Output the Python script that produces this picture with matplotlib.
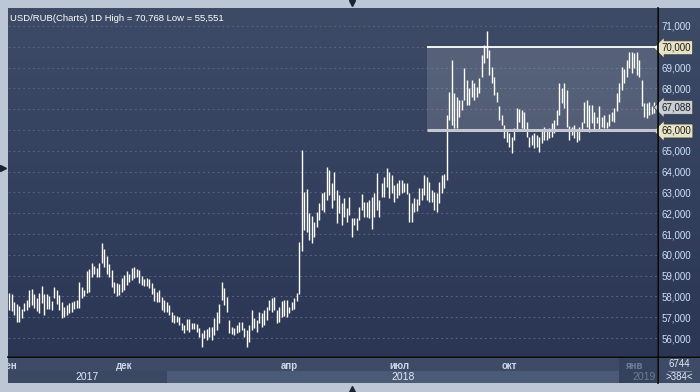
import matplotlib
matplotlib.use("Agg")
import matplotlib.pyplot as plt
import numpy as np
from matplotlib.colors import LinearSegmentedColormap
from matplotlib.patches import Rectangle
from matplotlib.lines import Line2D

plt.rcParams['font.family'] = ['Liberation Sans', 'DejaVu Sans']

# daily bars USD/RUB (high / low)
highs = [58.15, 58.10, 57.75, 57.65, 57.55, 57.40, 57.70, 57.85, 58.30, 58.35,
         58.10, 57.90, 58.15, 58.50, 58.10, 58.10, 58.00, 57.80, 58.43, 58.30,
         58.05, 57.75, 57.50, 57.60, 57.70, 57.75, 57.80, 57.85, 58.71, 58.45,
         58.30, 59.20, 59.30, 59.59, 59.45, 59.35, 59.60, 60.55, 60.30, 59.95,
         59.55, 59.25, 58.70, 58.65, 58.60, 58.90, 59.05, 59.20, 59.10, 59.35,
         59.40, 59.30, 59.25, 59.00, 58.85, 58.90, 58.85, 58.65, 58.40, 58.20,
         58.31, 57.99, 57.83, 57.75, 57.58, 57.26, 57.10, 57.06, 57.00, 56.70,
         56.62, 56.90, 56.90, 56.73, 56.70, 56.67, 56.46, 56.25, 56.38, 56.41,
         56.51, 56.54, 56.94, 57.26, 57.63, 58.71, 58.39, 57.99, 56.86, 56.54,
         56.46, 56.62, 56.78, 56.78, 56.46, 56.38, 56.62, 57.34, 56.94, 56.86,
         57.26, 57.18, 57.34, 57.47, 57.83, 57.91, 57.99, 57.34, 57.47, 57.79,
         57.83, 57.83, 57.50, 57.75, 57.91, 58.15, 60.63, 65.04, 63.04, 63.15,
         62.00, 61.87, 61.60, 62.07, 62.48, 62.96, 63.04, 64.24, 64.08, 63.44,
         64.00, 63.12, 62.88, 62.48, 62.72, 62.24, 62.76, 61.75, 61.75, 61.75,
         62.32, 62.92, 62.56, 62.56, 62.64, 62.80, 62.96, 63.92, 62.64, 63.44,
         63.76, 64.16, 64.00, 63.84, 63.36, 63.44, 63.60, 63.60, 63.44, 63.44,
         62.96, 62.48, 62.72, 62.67, 63.20, 63.20, 63.84, 63.76, 63.52, 63.12,
         63.04, 62.96, 63.52, 63.84, 63.90, 66.72, 67.85, 69.37, 67.77, 67.60,
         67.45, 67.45, 68.97, 68.41, 68.00, 68.41, 68.25, 68.09, 68.49, 69.61,
         70.09, 70.768, 69.85, 69.05, 68.57, 67.85, 67.13, 66.72, 66.24, 66.00,
         65.84, 65.68, 66.08, 67.04, 67.00, 66.96, 66.88, 66.40, 65.68, 65.76,
         65.84, 65.76, 65.68, 66.00, 66.16, 66.00, 66.08, 66.32, 66.48, 66.96,
         68.25, 68.01, 68.25, 67.93, 66.20, 66.16, 66.24, 66.00, 66.16, 66.40,
         67.37, 67.45, 67.20, 67.20, 66.88, 66.64, 67.13, 66.61, 66.72, 66.40,
         66.77, 66.88, 67.04, 67.77, 68.25, 69.05, 68.92, 69.37, 69.77, 69.77,
         69.69, 69.77, 69.37, 68.38, 67.29, 67.32, 67.37, 67.16, 67.37]
lows = [57.35, 57.30, 57.10, 56.75, 56.78, 56.95, 57.30, 57.35, 57.50, 57.60,
        57.45, 57.30, 57.20, 57.70, 57.10, 57.40, 57.40, 57.35, 57.90, 57.65,
        57.35, 56.95, 57.00, 57.10, 57.20, 57.25, 57.40, 57.45, 57.45, 57.90,
        58.00, 58.15, 58.20, 58.95, 59.10, 58.95, 58.95, 59.60, 59.40, 59.10,
        58.95, 58.45, 58.15, 58.00, 58.05, 58.20, 58.30, 58.55, 58.70, 58.80,
        58.90, 58.95, 58.65, 58.55, 58.50, 58.50, 58.40, 58.10, 57.80, 57.75,
        57.75, 57.34, 57.26, 57.26, 57.10, 56.78, 56.70, 56.78, 56.62, 56.38,
        56.22, 56.38, 56.30, 56.41, 56.41, 56.30, 56.03, 55.58, 55.98, 55.90,
        56.06, 55.90, 56.14, 56.38, 56.70, 57.83, 57.58, 57.26, 56.22, 56.19,
        56.14, 56.22, 56.30, 56.38, 56.06, 55.551, 55.82, 56.38, 56.46, 56.30,
        56.70, 56.54, 56.62, 56.86, 57.34, 57.26, 57.34, 56.70, 56.78, 56.99,
        57.06, 57.02, 57.18, 57.34, 57.38, 57.79, 58.10, 60.20, 61.19, 61.11,
        60.71, 60.55, 60.87, 61.35, 61.67, 62.15, 62.07, 62.64, 62.88, 62.24,
        62.64, 61.51, 61.99, 61.43, 61.83, 61.59, 61.91, 60.87, 61.43, 61.19,
        61.67, 62.15, 61.83, 61.80, 61.75, 61.22, 61.83, 62.15, 61.83, 62.80,
        62.80, 63.28, 62.72, 62.96, 62.56, 62.72, 62.88, 62.96, 63.04, 62.92,
        61.59, 61.59, 62.07, 62.12, 62.40, 62.64, 62.88, 62.64, 62.56, 62.56,
        62.15, 62.07, 62.48, 62.96, 63.20, 63.60, 66.48, 66.24, 66.08, 66.08,
        66.64, 66.96, 67.45, 67.20, 67.20, 67.61, 67.45, 67.61, 67.77, 68.57,
        69.21, 69.45, 68.65, 68.25, 67.69, 67.36, 66.48, 66.24, 65.60, 65.44,
        65.20, 64.88, 65.52, 66.00, 66.40, 66.08, 66.00, 65.68, 65.20, 65.28,
        65.12, 65.20, 64.96, 65.36, 65.52, 65.52, 65.60, 65.68, 65.84, 66.24,
        66.72, 67.29, 67.04, 66.16, 65.52, 65.76, 65.60, 65.44, 65.52, 66.04,
        66.32, 66.16, 65.92, 66.32, 66.00, 66.32, 66.00, 66.13, 66.08, 66.08,
        66.20, 66.45, 66.40, 66.93, 67.36, 67.93, 68.28, 68.57, 68.97, 68.73,
        68.97, 68.65, 68.57, 67.13, 66.64, 66.56, 66.72, 66.77, 66.80]
last_close = 67.088

months = ['сен', 'дек', 'апр', 'июл', 'окт', 'янв']
month_bars = [0, 46, 112, 156, 200, 250]
years = ['2017', '2018', '2019']
year_start_bars = [0, 63, 244]

range_start_bar = 167
range_top = 70.0
range_bottom = 66.0

y_ticks = [56, 57, 58, 59, 60, 61, 62, 63, 64, 65, 66, 67, 68, 69, 70, 71]

W, H = 700, 392
fig = plt.figure(figsize=(7, 3.92), dpi=100, facecolor='#bcc6d4')

def fx(px):
    return px / W

def fy(py):
    return 1 - py / H

n = len(highs)
xs = np.arange(n)
xmin, xmax = -0.4, n + 0.2
ymin, ymax = 55.135, 71.865

ax = fig.add_axes([fx(8), fy(356), fx(649), 348 / H])
ax.set_xlim(xmin, xmax)
ax.set_ylim(ymin, ymax)

bg = LinearSegmentedColormap.from_list('bg', ['#3e4b67', '#2a3654'])
grad = np.linspace(0, 1, 256).reshape(-1, 1)
ax.imshow(grad, cmap=bg, extent=[xmin, xmax, ymin, ymax], aspect='auto',
          origin='upper', zorder=0)

# right scale panel
axr = fig.add_axes([fx(658), fy(356), fx(42), 348 / H], zorder=-1)
axr.imshow(grad, cmap=bg, extent=[0, 1, 0, 1], aspect='auto', origin='upper')
axr.axis('off')

# range box
ax.add_patch(Rectangle((range_start_bar, range_bottom), xmax - range_start_bar,
                       range_top - range_bottom, facecolor='white', alpha=0.14,
                       edgecolor='none', zorder=1))

ax.vlines(xs, lows, highs, color='white', lw=1.0, zorder=2)

ax.hlines(range_top, range_start_bar, xmax, color='white', lw=1.3, zorder=3)
ax.hlines(range_bottom, range_start_bar, xmax, color='#c3c7cf', lw=2.2, zorder=3)

# grid
ax.set_xticks(month_bars)
tick_labels = ['' if v == 67 else f"{v:.3f}".replace('.', ',') for v in y_ticks]
ax.set_yticks(y_ticks, labels=tick_labels)
ax.grid(True, color='#56647f', lw=0.7, linestyle=(0, (2, 3)))
ax.set_axisbelow(True)
for sp in ax.spines.values():
    sp.set_visible(False)
ax.tick_params(axis='x', length=0, labelbottom=False)
ax.yaxis.tick_right()
ax.tick_params(axis='y', length=0, pad=3, labelsize=7, labelcolor='#cfe0f6')
for lab in ax.get_yticklabels():
    if lab.get_text() in ('70,000', '66,000'):
        lab.set_color('#1e1e1e')
        lab.set_bbox(dict(boxstyle='larrow,pad=0.2', fc='#e7e3c5', ec='#3a3a3a', lw=0.5))

ax.annotate(f"{last_close:.3f}".replace('.', ','), xy=(1, last_close),
            xycoords=('axes fraction', 'data'), xytext=(3, 0), textcoords='offset points',
            va='center', ha='left', fontsize=7, color='#1e1e1e', annotation_clip=False,
            bbox=dict(boxstyle='larrow,pad=0.2', fc='#c9cdd6', ec='#3a3a3a', lw=0.5))

ax.text(2 / 649, 1 - 6 / 348, 'USD/RUB(Charts) 1D High = 70,768 Low = 55,551',
        transform=ax.transAxes, ha='left', va='top', fontsize=6.8, color='white')

# bottom date panel
axb = fig.add_axes([fx(8), fy(383), fx(649), 26 / H], sharex=ax)
axb.set_ylim(0, 1)
axb.set_facecolor('#3e4b66')
axb.axvspan(xmin, year_start_bars[1], 0, 0.48, color='#3b4863', lw=0)
axb.axvspan(year_start_bars[1], year_start_bars[2], 0, 0.48, color='#4b5a76', lw=0)
axb.axvspan(year_start_bars[2], xmax, 0, 1, color='#35425e', lw=0)
for lab, b in zip(months, month_bars):
    c = '#6f7c94' if b >= year_start_bars[2] else '#cdd7e8'
    axb.text(b, 0.66, lab, ha='center', va='center', fontsize=7,
             fontweight='bold', color=c)
axb.text((xmin + year_start_bars[1]) / 2, 0.25, years[0], ha='center', va='center',
         fontsize=7.5, color='#e2e9f4')
axb.text((year_start_bars[1] + year_start_bars[2]) / 2 + 4, 0.25, years[1],
         ha='center', va='center', fontsize=7.5, color='#e2e9f4')
axb.text(xmax - 0.5, 0.25, years[2], ha='right', va='center', fontsize=7.5,
         color='#6f7c94')
axb.set_xticks([])
axb.set_yticks([])
for sp in axb.spines.values():
    sp.set_visible(False)

# bottom right counter box
fig.add_artist(Rectangle((fx(658), fy(383)), fx(42), 26 / H, transform=fig.transFigure,
                         facecolor='#3e4b66', edgecolor='none', zorder=-2))
fig.text(fx(679), fy(364), '6744', ha='center', va='center', fontsize=7, color='#e6ecf5')
fig.add_artist(Line2D([fx(668), fx(691)], [fy(370.5), fy(370.5)], color='#8391a8',
                      lw=0.6, transform=fig.transFigure))
fig.text(fx(679), fy(377), '>384<', ha='center', va='center', fontsize=7, color='#e6ecf5')

# frame lines
fig.add_artist(Line2D([fx(8), 1], [fy(356.5), fy(356.5)], color='black', lw=1.2,
                      transform=fig.transFigure, zorder=6))
fig.add_artist(Line2D([fx(657.5), fx(657.5)], [fy(8), fy(383)], color='black', lw=1.2,
                      transform=fig.transFigure, zorder=6))
fig.add_artist(Rectangle((0, 0), fx(8), 1, transform=fig.transFigure,
                         facecolor='#bcc6d4', edgecolor='none', zorder=5))

# small scroll arrows
for x, y, m in [(352, 3, 'v'), (3, 168, '>'), (352, 389, '^')]:
    fig.add_artist(Line2D([fx(x)], [fy(y)], marker=m, markersize=4, color='#1c2232',
                          lw=0, transform=fig.transFigure, zorder=7))

fig.savefig('out.png', dpi=100, facecolor=fig.get_facecolor())
